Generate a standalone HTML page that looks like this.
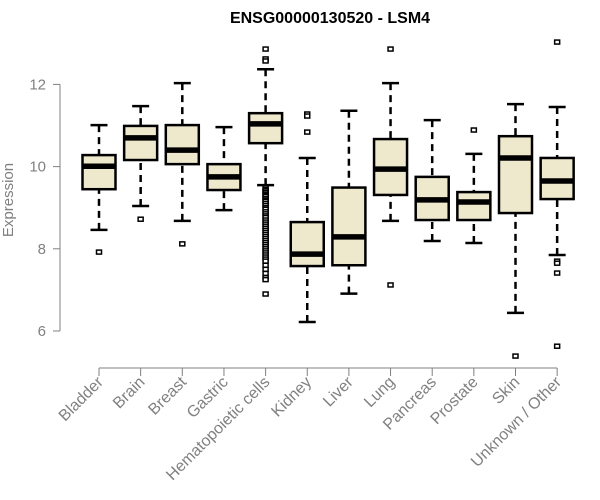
<!DOCTYPE html>
<html><head><meta charset="utf-8"><style>body{margin:0;background:#fff}svg{display:block}text{font-family:"Liberation Sans",sans-serif}</style></head>
<body>
<svg id="chart" width="600" height="500" xmlns="http://www.w3.org/2000/svg">
<text x="330" y="23" text-anchor="middle" font-size="16" font-weight="bold" fill="#000">ENSG00000130520 - LSM4</text>
<text transform="translate(13,200) rotate(-90)" text-anchor="middle" font-size="15" fill="#808080">Expression</text>
<g id="axes"></g><g id="boxes"></g>
</svg>
<script>
const categories=["Bladder","Brain","Breast","Gastric","Hematopoietic cells","Kidney","Liver","Lung","Pancreas","Prostate","Skin","Unknown / Other"];
const wmin=[8.46,9.04,8.68,8.94,9.55,6.22,6.91,8.68,8.19,8.14,6.44,7.85];
const q1=[9.45,10.16,10.06,9.43,10.57,7.58,7.6,9.31,8.70,8.70,8.87,9.21];
const med=[10.01,10.70,10.40,9.75,11.04,7.87,8.29,9.94,9.19,9.14,10.21,9.65];
const q3=[10.28,10.99,11.01,10.06,11.30,8.65,9.49,10.67,9.75,9.38,10.74,10.21];
const wmax=[11.01,11.47,12.03,10.96,12.37,10.21,11.36,12.03,11.13,10.31,11.52,11.45];
const outliers=[[7.92],[8.72],[8.12],[],
 [12.86,12.62,12.57,9.48,9.44,9.41,9.37,9.33,9.3,9.27,9.22,9.18,9.15,9.1,9.05,9.0,8.96,8.9,8.85,8.8,8.76,8.7,8.65,8.6,8.55,8.5,8.45,8.4,8.35,8.3,8.25,8.2,8.15,8.1,8.05,8.0,7.95,7.9,7.85,7.8,7.75,7.7,7.6,7.5,7.4,7.3,7.25,6.9],
 [11.28,11.23,10.84],[],[12.86,7.12],[],[10.89],[5.39],[13.03,7.7,7.65,7.41,5.63]];
const yTicks=[6,8,10,12];
const NS="http://www.w3.org/2000/svg";
const y=v=>331-(v-6)*41.1;
const x=i=>99+i*41.65;
function el(t,a,p){const e=document.createElementNS(NS,t);for(const k in a)e.setAttribute(k,a[k]);p.appendChild(e);return e;}
const ax=document.getElementById('axes'),bx=document.getElementById('boxes');
const yl=el('line',{x1:60,x2:60,y1:y(12),y2:y(6),stroke:'#808080','stroke-width':1},ax);


yTicks.forEach(t=>{
 const tk=el('line',{x1:53,x2:60,y1:y(t),y2:y(t),stroke:'#808080'},ax);
 
 
 const tx=el('text',{x:46,y:y(t)+5,'text-anchor':'end','font-size':15,fill:'#808080'},ax);
 
 
 tx.textContent=t;
});
const xl=el('line',{x1:x(0),x2:x(11),y1:368,y2:368,stroke:'#808080'},ax);


categories.forEach((c,i)=>{
 const cx=x(i);
 const tk=el('line',{x1:cx,x2:cx,y1:368,y2:376,stroke:'#808080'},ax);
 
 
 const tx=el('text',{transform:`translate(${cx+5},${383}) rotate(-45)`,'text-anchor':'end','font-size':16,fill:'#808080'},ax);
 
 
 tx.textContent=c;
 const g=el('g',{},bx);
 
 
 const w=33,cw=17;
 el('line',{x1:cx,x2:cx,y1:y(wmax[i]),y2:y(q3[i]),stroke:'#000','stroke-width':2.5,'stroke-dasharray':'7,5'},g);
 el('line',{x1:cx,x2:cx,y1:y(wmin[i]),y2:y(q1[i]),stroke:'#000','stroke-width':2.5,'stroke-dasharray':'7,5'},g);
 el('line',{x1:cx-cw/2,x2:cx+cw/2,y1:y(wmax[i]),y2:y(wmax[i]),stroke:'#000','stroke-width':2.5},g);
 el('line',{x1:cx-cw/2,x2:cx+cw/2,y1:y(wmin[i]),y2:y(wmin[i]),stroke:'#000','stroke-width':2.5},g);
 el('rect',{x:cx-w/2,y:y(q3[i]),width:w,height:y(q1[i])-y(q3[i]),fill:'#EEE8CD',stroke:'#000','stroke-width':2.5},g);
 el('line',{x1:cx-w/2,x2:cx+w/2,y1:y(med[i]),y2:y(med[i]),stroke:'#000','stroke-width':5.5},g);
 outliers[i].forEach(o=>{
  const r=el('rect',{x:cx-2.5,y:y(o)-2,width:5,height:4,fill:'#fff',stroke:'#000','stroke-width':1.5},g);
  
  
 });
});
</script>
</body></html>
